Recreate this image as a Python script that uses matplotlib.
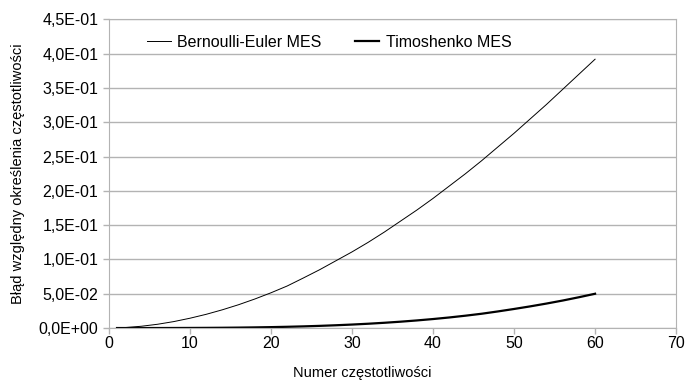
import matplotlib
matplotlib.use("Agg")
import matplotlib.pyplot as plt
from matplotlib.ticker import FuncFormatter, MultipleLocator

plt.rcParams["font.family"] = ["Liberation Sans", "DejaVu Sans"]

# numer częstotliwości
freq_no = [1, 2, 4, 6, 8, 10, 12, 14, 16, 18, 20, 22, 24, 26, 28, 30,
           32, 34, 36, 38, 40, 42, 44, 46, 48, 50, 52, 54, 56, 58, 60]
# błąd względny - model Bernoulli-Euler
err_bernoulli = [0.0002, 0.0007, 0.0026, 0.0055, 0.0094, 0.0143, 0.0200,
                 0.0266, 0.0340, 0.0423, 0.0514, 0.0613, 0.0730, 0.0850,
                 0.0980, 0.1110, 0.1250, 0.1400, 0.1560, 0.1720, 0.1890,
                 0.2070, 0.2250, 0.2440, 0.2640, 0.2840, 0.3050, 0.3260,
                 0.3480, 0.3700, 0.3920]
# błąd względny - model Timoshenko
err_timoshenko = [0.0, 0.0, 0.00001, 0.00003, 0.00007, 0.00014, 0.00025,
                  0.00041, 0.00064, 0.00094, 0.00133, 0.00182, 0.00243,
                  0.00317, 0.00405, 0.00508, 0.00628, 0.00768, 0.00927,
                  0.01108, 0.01312, 0.01541, 0.01800, 0.02085, 0.02420,
                  0.02780, 0.03160, 0.03570, 0.04010, 0.04490, 0.05000]

fig = plt.figure(figsize=(6.85, 3.81), dpi=100)
ax = fig.add_axes([0.159, 0.139, 0.828, 0.810])

ax.plot(freq_no, err_bernoulli, color="black", lw=0.7, label="Bernoulli-Euler MES")
ax.plot(freq_no, err_timoshenko, color="black", lw=1.6, label="Timoshenko MES")

ax.set_xlim(0, 70)
ax.set_ylim(0, 0.45)
ax.xaxis.set_major_locator(MultipleLocator(10))
ax.yaxis.set_major_locator(MultipleLocator(0.05))
ax.yaxis.set_major_formatter(
    FuncFormatter(lambda v, pos: f"{v:.1E}".replace(".", ",")))

ax.grid(axis="y", color="#b3b3b3", lw=1.0)
ax.set_axisbelow(True)
for s in ax.spines.values():
    s.set_color("#b3b3b3")
ax.tick_params(colors="#b3b3b3", labelcolor="black", labelsize=11.5, length=4,
               width=1.0)
ax.tick_params(axis="x", pad=2)

fig.text(362 / 685, 1 - 373 / 381, "Numer częstotliwości", fontsize=10.5,
         ha="center", va="center")
ax.set_ylabel("Błąd względny określenia częstotliwości", fontsize=10.5,
              labelpad=10)

ax.legend(loc="center left", bbox_to_anchor=(0.042, 0.926), ncol=2, frameon=False,
          fontsize=11.5, handlelength=1.5, handletextpad=0.4, columnspacing=2.1)

fig.savefig("out.png", dpi=100)
